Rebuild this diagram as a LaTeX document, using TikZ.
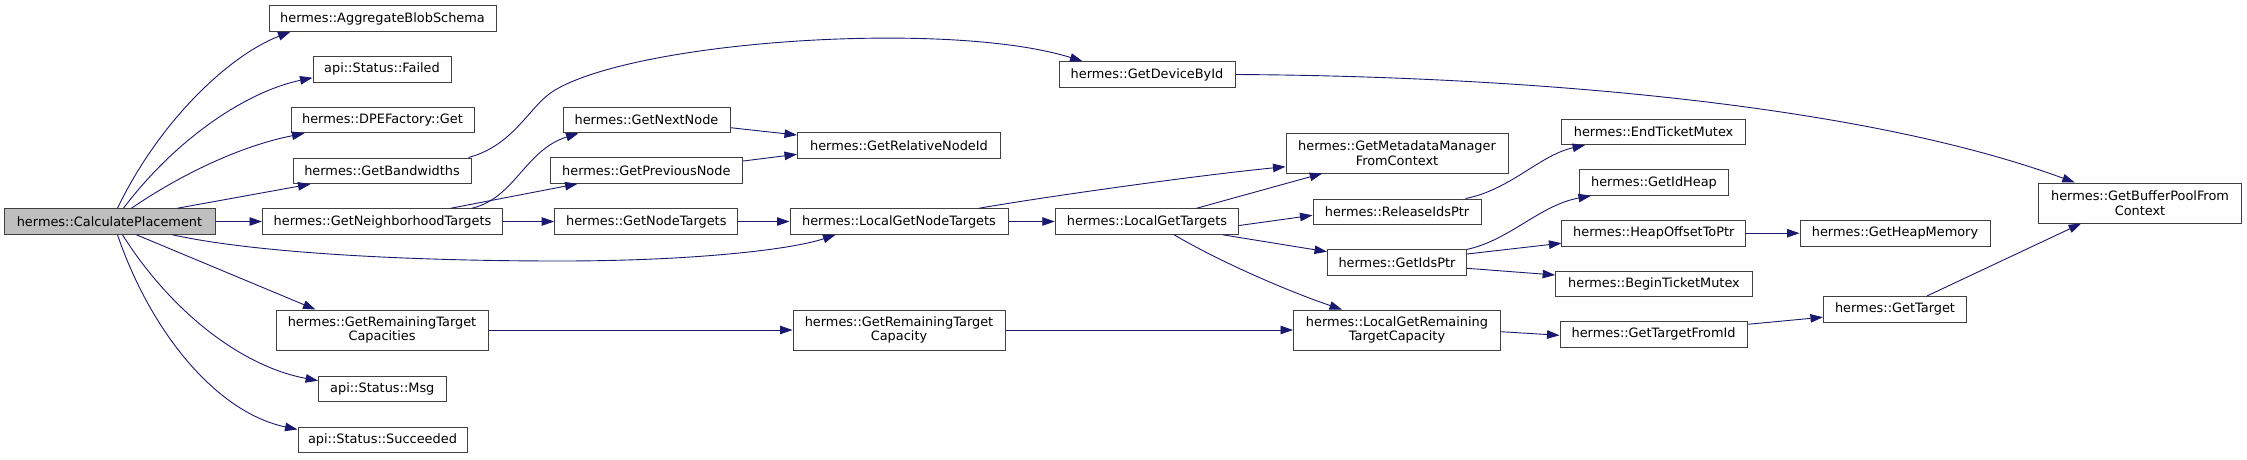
\documentclass[tikz,border=0pt]{standalone}
\usepackage{fontspec}
\setmainfont{DejaVu Sans}
\usetikzlibrary{arrows.meta}
\definecolor{edgeblue}{HTML}{191970}
\definecolor{boxgray}{HTML}{404040}
\definecolor{rootfill}{HTML}{BFBFBF}
\begin{document}
\begin{tikzpicture}[x=1pt,y=-1pt,
  box/.style={draw=boxgray, fill=white, line width=1pt, inner sep=0pt, minimum height=25.6pt, align=center, font=\fontsize{12.9}{14.5}\selectfont},
  tall/.style={minimum height=40pt},
  root/.style={fill=rootfill},
  edge/.style={draw=edgeblue, line width=0.9pt, -{Triangle[length=12.5pt,width=8.5pt]}}]
\useasboundingbox (0,0) rectangle (2247,459);
\fill[white] (0,0) rectangle (2247,459);
% column 0
\node[box,root,minimum width=211pt] (cp) at (109.5,221.5) {hermes::CalculatePlacement};
% column 1
\node[box,minimum width=227pt] (abs) at (382.5,18.5) {hermes::AggregateBlobSchema};
\node[box,minimum width=138pt] (fail) at (382,69.4) {api::Status::Failed};
\node[box,minimum width=183pt] (dpe) at (382.5,120) {hermes::DPEFactory::Get};
\node[box,minimum width=178pt] (bw) at (382,170.8) {hermes::GetBandwidths};
\node[box,minimum width=240pt] (nbh) at (382.5,221.5) {hermes::GetNeighborhoodTargets};
\node[box,tall,minimum width=212pt] (grtcs) at (382,330) {hermes::GetRemainingTarget\\Capacities};
\node[box,minimum width=127.4pt] (msg) at (382.3,389) {api::Status::Msg};
\node[box,minimum width=169pt] (succ) at (382.5,439.8) {api::Status::Succeeded};
% column 2
\node[box,minimum width=167pt] (next) at (646.5,120) {hermes::GetNextNode};
\node[box,minimum width=192.5pt] (prev) at (646.3,170.5) {hermes::GetPreviousNode};
\node[box,minimum width=183.3pt] (nt) at (646.3,221.5) {hermes::GetNodeTargets};
% column 3
\node[box,minimum width=203pt] (rel) at (899,145.5) {hermes::GetRelativeNodeId};
\node[box,minimum width=218pt] (lnt) at (899,221.5) {hermes::LocalGetNodeTargets};
\node[box,tall,minimum width=212pt] (grtc) at (899,330) {hermes::GetRemainingTarget\\Capacity};
% column 4
\node[box,minimum width=176pt] (dev) at (1147,74.5) {hermes::GetDeviceById};
\node[box,minimum width=183.5pt] (lgt) at (1147,221.5) {hermes::LocalGetTargets};
% column 5
\node[box,tall,minimum width=222pt] (mm) at (1397,153) {hermes::GetMetadataManager\\FromContext};
\node[box,minimum width=168pt] (rip) at (1397,211.8) {hermes::ReleaseIdsPtr};
\node[box,minimum width=139pt] (ids) at (1397,262.7) {hermes::GetIdsPtr};
\node[box,tall,minimum width=207pt] (lgrtc) at (1397,330) {hermes::LocalGetRemaining\\TargetCapacity};
% column 6
\node[box,minimum width=183.3pt] (etm) at (1653.6,131.8) {hermes::EndTicketMutex};
\node[box,minimum width=148.3pt] (idh) at (1654,182.5) {hermes::GetIdHeap};
\node[box,minimum width=183.7pt] (hop) at (1653.8,233.2) {hermes::HeapOffsetToPtr};
\node[box,minimum width=196.7pt] (btm) at (1654,284) {hermes::BeginTicketMutex};
\node[box,minimum width=187.2pt] (gtfi) at (1653.6,334.3) {hermes::GetTargetFromId};
% column 7
\node[box,minimum width=190pt] (ghm) at (1895,233.2) {hermes::GetHeapMemory};
\node[box,minimum width=143.2pt] (gt) at (1895,309.2) {hermes::GetTarget};
% column 8
\node[box,tall,minimum width=202.8pt] (bpc) at (2140,203) {hermes::GetBufferPoolFrom\\Context};

% edges from CalculatePlacement
\draw[edge] ([xshift=114pt]cp.north west) .. controls (160,120) and (230,55) .. ([xshift=22pt]abs.south west);
\draw[edge] ([xshift=120pt]cp.north west) .. controls (175,140) and (245,92) .. ([yshift=5pt]fail.south west);
\draw[edge] ([xshift=128pt]cp.north west) .. controls (180,175) and (240,146) .. ([xshift=14pt]dpe.south west);
\draw[edge] ([xshift=174pt]cp.north west) -- ([xshift=18pt]bw.south west);
\draw[edge] (cp.east) -- (nbh.west);
\draw[edge] ([xshift=169pt]cp.south west) .. controls (260,254) and (420,261) .. (560,261) .. controls (690,261) and (790,250) .. ([xshift=46pt]lnt.south west);
\draw[edge] ([xshift=133pt]cp.south west) -- ([xshift=40pt]grtcs.north west);
\draw[edge] ([xshift=119pt]cp.south west) .. controls (170,310) and (240,366) .. ([yshift=-5pt]msg.north west);
\draw[edge] ([xshift=114pt]cp.south west) .. controls (150,330) and (215,412) .. ([yshift=-3pt]succ.north west);
% column 1 edges
\draw[edge] ([xshift=-3pt]bw.north east) .. controls (515,145) and (529.5,105) .. (555,90) .. controls (640,40) and (950,20) .. ([xshift=24pt]dev.north west);
\draw[edge] ([xshift=-31pt]nbh.north east) .. controls (515,198) and (525,150) .. ([xshift=16pt]next.south west);
\draw[edge] ([xshift=-52pt]nbh.north east) -- ([xshift=28pt]prev.south west);
\draw[edge] (nbh.east) -- (nt.west);
\draw[edge] (grtcs.east) -- (grtc.west);
% column 2 edges
\draw[edge] ([yshift=-7.7pt]next.east) -- ([yshift=10.5pt]rel.west);
\draw[edge] ([yshift=9.5pt]prev.east) -- ([yshift=-8.8pt]rel.west);
\draw[edge] (nt.east) -- (lnt.west);
% column 3 edges
\draw[edge] (lnt.east) -- (lgt.west);
\draw[edge] ([xshift=-29.4pt]lnt.north east) .. controls (1050,196) and (1200,175) .. ([yshift=-13.7pt]mm.west);
\draw[edge] (grtc.east) -- (lgrtc.west);
% column 4 edges
\draw[edge] (dev.east) .. controls (1500,76) and (1850,100) .. ([xshift=36.7pt]bpc.north west);
\draw[edge] ([xshift=-42.5pt]lgt.north east) -- ([xshift=36.7pt]mm.south west);
\draw[edge] ([yshift=-4pt]lgt.east) -- ([yshift=-3.5pt]rip.west);
\draw[edge] ([xshift=-16.5pt]lgt.south east) -- ([yshift=11pt]ids.west);
\draw[edge] ([xshift=119.4pt]lgt.south west) .. controls (1220,262) and (1290,292) .. ([xshift=49pt]lgrtc.north west);
% column 5 edges
\draw[edge] ([xshift=-16pt]rip.north east) .. controls (1510,190) and (1540,155) .. ([xshift=23.6pt]etm.south west);
\draw[edge] (ids.north east) .. controls (1510,240) and (1540,205) .. ([xshift=11.6pt]idh.south west);
\draw[edge] ([yshift=8.7pt]ids.east) -- ([yshift=-10pt]hop.west);
\draw[edge] ([yshift=-5.6pt]ids.east) -- ([yshift=9pt]btm.west);
\draw[edge] ([yshift=-1.7pt]lgrtc.east) -- ([yshift=-1pt]gtfi.west);
% column 6/7 edges
\draw[edge] (hop.east) -- (ghm.west);
\draw[edge] ([yshift=10pt]gtfi.east) -- ([yshift=-8pt]gt.west);
\draw[edge] ([xshift=-40pt]gt.north east) -- ([xshift=43pt]bpc.south west);
\end{tikzpicture}
\end{document}
